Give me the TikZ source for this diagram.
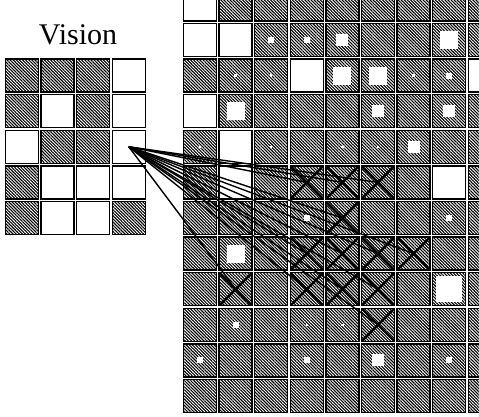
\documentclass[tikz,border=0pt]{standalone}
\usepackage{fontspec}
\setmainfont{Liberation Serif}
\usetikzlibrary{patterns.meta}

\tikzset{
  tile/.style={draw, line width=1.4pt, minimum size=33pt, inner sep=0pt, outer sep=0pt},
  tile W/.style={tile, fill=white},
  tile H/.style={tile, pattern={Lines[angle=-45, distance=2.2pt, line width=1.1pt]}},
  tile spot/.style={tile H, path picture={
      \fill[white] ([shift={(-#1,-#1)}]path picture bounding box.center)
        rectangle ([shift={(#1,#1)}]path picture bounding box.center);}},
  tile T/.style={tile spot=1.2pt},
  tile S/.style={tile spot=3pt},
  tile M/.style={tile spot=6pt},
  tile B/.style={tile spot=9pt},
  tile L/.style={tile spot=13pt},
  tile X/.style={tile H, path picture={
      \draw[line width=2.4pt] (path picture bounding box.north west) -- (path picture bounding box.south east)
        (path picture bounding box.south west) -- (path picture bounding box.north east);}},
  wire/.style={line width=1.4pt}
}

\begin{document}
\begin{tikzpicture}[x=1pt, y=-1pt]
  \useasboundingbox (0,0) rectangle (479,417);
  \clip (0,0) rectangle (479,417);
  \node[font=\fontsize{30}{30}\selectfont, anchor=base] (title) at (78,45) {Vision};
  % vision grid
  \foreach \row [count=\r from 0] in {{H,H,H,W},{H,W,H,W},{W,H,H,W},{H,W,W,W},{H,W,W,H}}
    \foreach \t [count=\c from 0] in \row
      \node[tile \t] (v-\r-\c) at ({22+35.6*\c}, {75.6+35.6*\r}) {};
  % map grid
  \foreach \row [count=\r from 0] in {
      {W,H,H,H,H,H,H,H,H}, {W,W,S,S,M,H,H,B,H}, {H,T,T,W,B,B,T,S,W},
      {W,B,H,H,H,M,H,M,H}, {T,W,T,H,T,T,M,H,H}, {H,W,H,X,X,X,H,W,H},
      {H,H,H,S,X,H,H,S,H}, {H,B,H,X,X,X,X,H,H}, {H,X,H,X,X,X,H,L,H},
      {H,S,H,T,T,X,H,H,H}, {S,H,H,S,H,M,H,S,H}, {H,H,H,H,H,H,H,H,H}}
    \foreach \t [count=\c from 0] in \row
      \node[tile \t] (m-\r-\c) at ({200+35.6*\c}, {4.4+35.6*\r}) {};
  % links
  \foreach \t in {5-3,5-4,5-5,6-4,7-3,7-4,7-5,7-6,8-1,8-3,8-4,8-5,9-5}
    \draw[wire] (v-2-3.center) -- (m-\t.center);
\end{tikzpicture}
\end{document}
